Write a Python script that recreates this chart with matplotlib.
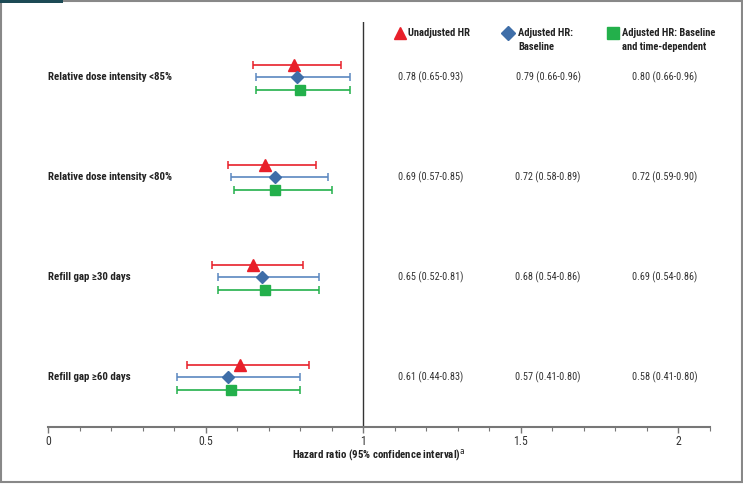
import matplotlib
matplotlib.use("Agg")
import matplotlib.pyplot as plt
from matplotlib.patches import Rectangle
from matplotlib import font_manager

names = {f.name for f in font_manager.fontManager.ttflist}
FONT = ['DejaVu Sans']
for cand in ['Roboto Condensed', 'Archivo Narrow', 'PT Sans Narrow', 'Liberation Sans Narrow', 'Barlow Condensed']:
    if cand in names:
        FONT = [cand, 'DejaVu Sans']
        break
plt.rcParams['font.family'] = FONT

categories = ["Relative dose intensity <85%", "Relative dose intensity <80%",
              "Refill gap \u226530 days", "Refill gap \u226560 days"]
series = ["Unadjusted HR", "Adjusted HR:\nBaseline", "Adjusted HR: Baseline\nand time-dependent"]
hr = [[0.78, 0.79, 0.80], [0.69, 0.72, 0.72], [0.65, 0.68, 0.69], [0.61, 0.57, 0.58]]
lo = [[0.65, 0.66, 0.66], [0.57, 0.58, 0.59], [0.52, 0.54, 0.54], [0.44, 0.41, 0.41]]
hi = [[0.93, 0.96, 0.96], [0.85, 0.89, 0.90], [0.81, 0.86, 0.86], [0.83, 0.80, 0.80]]
xticks = [0, 0.5, 1, 1.5, 2]
xticklabels = ["0", "0.5", "1", "1.5", "2"]

colors = ["#e8202a", "#5b88c0", "#23b04b"]
mcolors = ["#e8202a", "#3f6ea8", "#23b04b"]
markers = ["^", "D", "s"]
msizes = [8, 6, 7.5]

W, H = 743, 484
fig = plt.figure(figsize=(W / 100, H / 100), dpi=100)

def fx(px):
    return px / W

def fy(py):
    return 1 - py / H

ax = fig.add_axes([fx(48), fy(427), fx(709.5) - fx(48), fy(22) - fy(427)])
ax.set_xlim(0, 2.1)
ax.set_ylim(427, 22)

row_centers = [77, 177, 277, 377]
offsets = [-12.5, 0, 12.5]
for i, cat in enumerate(categories):
    for j in range(3):
        y = row_centers[i] + offsets[j]
        ax.errorbar(hr[i][j], y, xerr=[[hr[i][j] - lo[i][j]], [hi[i][j] - hr[i][j]]],
                    fmt='none', ecolor=colors[j], elinewidth=1.2, capsize=3, capthick=1.1)
        ax.plot(hr[i][j], y, marker=markers[j], color=mcolors[j], markersize=msizes[j],
                linestyle='none', zorder=5)

ax.axvline(1, color="#333333", lw=1.0)
for s in ["top", "right", "left"]:
    ax.spines[s].set_visible(False)
ax.spines["bottom"].set_color("#777777")
ax.spines["bottom"].set_linewidth(1.5)
ax.set_yticks([])
ax.set_xticks(xticks)
ax.set_xticklabels(xticklabels)
ax.set_xticks([k / 10 for k in range(22)], minor=True)
ax.tick_params(axis='x', which='major', length=4, width=1, color="#777777", labelsize=8.5,
               labelcolor="#333333", pad=1.5)
ax.tick_params(axis='x', which='minor', length=3, width=0.8, color="#777777")

fig.text(fx(379), fy(455), "Hazard ratio (95% confidence interval)$^{\\mathrm{a}}$", ha='center', va='center',
         fontsize=7.8, fontweight='bold', color="#222222")

# category labels
for i, cat in enumerate(categories):
    fig.text(fx(48), fy(row_centers[i]), cat, ha='left', va='center', fontsize=7.8,
             fontweight='bold', color="#222222")

# column headers
col_centers = [431, 548, 665]
hdr_mark_x = [400, 508, 613]
hdr_text_x = [408, 518, 622]
for j in range(3):
    fig.text(fx(hdr_text_x[j]), fy(28), series[j], ha='left', va='top', fontsize=7.6,
             fontweight='bold', color="#222222", linespacing=1.45)
    fig.lines.append(plt.Line2D([fx(hdr_mark_x[j])], [fy(33)], marker=markers[j], color=mcolors[j],
                                markersize=msizes[j] + 1, transform=fig.transFigure, linestyle='none'))

for i in range(4):
    for j in range(3):
        txt = f"{hr[i][j]:.2f} ({lo[i][j]:.2f}-{hi[i][j]:.2f})"
        fig.text(fx(col_centers[j]), fy(row_centers[i]), txt, ha='center', va='center',
                 fontsize=7.4, color="#333333")

# figure frame
fig.patches.append(Rectangle((fx(0.5), fy(482)), fx(741.5), fy(1) - fy(482), fill=False,
                             edgecolor="#888888", lw=1.5, transform=fig.transFigure))
fig.patches.append(Rectangle((0, fy(3)), fx(63), fy(0) - fy(3), facecolor="#1c4a55",
                             edgecolor='none', transform=fig.transFigure))

fig.savefig("out.png", dpi=100)
